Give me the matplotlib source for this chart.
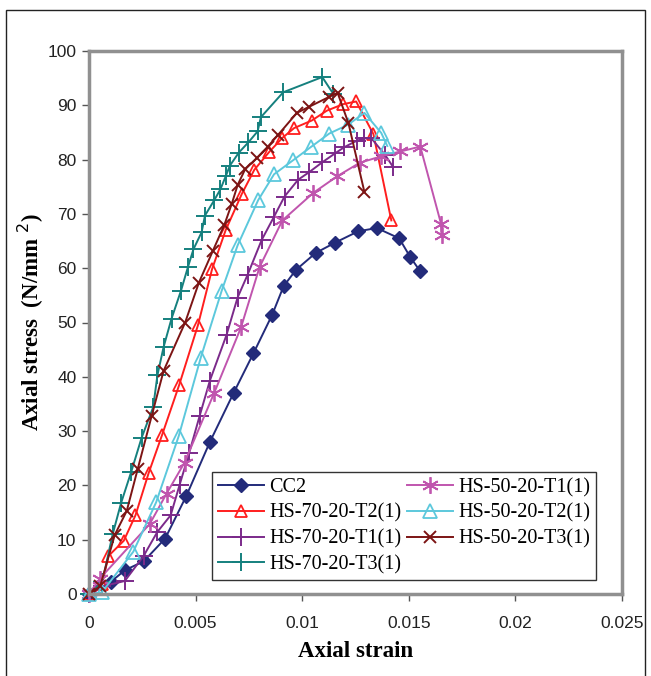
import matplotlib
matplotlib.use("Agg")
from matplotlib import pyplot as plt
from matplotlib.patches import Rectangle

# strain / stress readings (N/mm^2)
cc2_x = [0, 0.00101, 0.00169, 0.00256, 0.00357, 0.00457, 0.00567, 0.00678, 0.00771, 0.00859,
         0.00913, 0.00971, 0.01063, 0.01154, 0.01263, 0.0135, 0.01455, 0.01506, 0.01554]
cc2_y = [0, 2.2, 4.4, 6.0, 10.2, 18.1, 28.0, 37.0, 44.3, 51.4,
         56.7, 59.7, 62.8, 64.7, 66.8, 67.4, 65.5, 62.1, 59.4]

t2_70_x = [0, 0.00062, 0.00091, 0.00163, 0.00218, 0.0028, 0.00342, 0.00423, 0.00511, 0.00577,
           0.00641, 0.00717, 0.00775, 0.00845, 0.00907, 0.00962, 0.01045, 0.01115, 0.01191,
           0.01253, 0.01334, 0.01418]
t2_70_y = [0, 1.8, 7.0, 9.8, 14.5, 22.3, 29.2, 38.5, 49.5, 59.8,
           67.0, 73.7, 78.1, 81.4, 84.0, 85.8, 87.2, 89.0, 90.2,
           90.7, 84.7, 68.8]

t1_70_x = [0, 0.00062, 0.00168, 0.00256, 0.0032, 0.00383, 0.00425, 0.0047, 0.00519, 0.00567,
           0.00645, 0.00697, 0.00744, 0.0081, 0.00868, 0.00917, 0.00981, 0.01033, 0.01094,
           0.01156, 0.01198, 0.01257, 0.01292, 0.01325, 0.0139, 0.01427]
t1_70_y = [0, 1.4, 2.4, 7.0, 11.4, 14.5, 20.1, 26.0, 32.8, 39.3,
           47.7, 54.6, 58.8, 65.2, 69.5, 73.2, 76.3, 77.7, 79.5,
           81.2, 82.3, 83.5, 83.9, 83.9, 80.8, 78.6]

t3_70_x = [0, 0.00062, 0.00111, 0.0015, 0.00198, 0.00247, 0.00301, 0.00321, 0.0035, 0.00387,
           0.00431, 0.00464, 0.0049, 0.00528, 0.00544, 0.00587, 0.00616, 0.00641, 0.00661,
           0.00703, 0.00748, 0.00791, 0.00806, 0.00911, 0.01094, 0.01146]
t3_70_y = [0, 2.2, 11.0, 16.7, 22.5, 28.8, 34.4, 40.3, 45.5, 50.7,
           55.8, 60.2, 63.5, 66.6, 69.7, 72.5, 74.5, 76.9, 78.9,
           81.3, 83.2, 85.2, 87.8, 92.4, 95.2, 92.1]

t1_50_x = [0, 0.0005, 0.00285, 0.00364, 0.00448, 0.00588, 0.00713, 0.008, 0.00907, 0.01053,
           0.01163, 0.01269, 0.0137, 0.01461, 0.01554, 0.01651, 0.01657]
t1_50_y = [0, 2.8, 12.9, 18.5, 24.2, 37.1, 49.1, 60.2, 68.8, 73.9,
           76.9, 79.4, 80.6, 81.5, 82.4, 68.2, 66.2]

t2_50_x = [0, 0.0006, 0.00208, 0.00315, 0.00421, 0.00524, 0.00622, 0.00697, 0.00793, 0.00868,
           0.00958, 0.0104, 0.01127, 0.01214, 0.01292, 0.01371, 0.01399]
t2_50_y = [0, 0.3, 7.8, 16.9, 29.1, 43.5, 55.8, 64.2, 72.5, 77.3,
           79.9, 82.3, 84.8, 86.4, 88.6, 84.9, 82.5]

t3_50_x = [0, 0.00052, 0.00121, 0.00177, 0.00229, 0.00294, 0.0035, 0.00451, 0.00515, 0.00581,
           0.00635, 0.0067, 0.00697, 0.00732, 0.00787, 0.00839, 0.00888, 0.00975, 0.01031,
           0.01124, 0.01166, 0.01217, 0.01292]
t3_50_y = [0, 1.4, 10.9, 15.3, 23.1, 32.8, 41.1, 50.0, 57.3, 63.2,
           68.0, 71.9, 75.3, 78.2, 80.3, 82.4, 84.6, 88.6, 89.7,
           91.5, 92.3, 86.7, 74.0]

labels = ["CC2", "HS-70-20-T2(1)", "HS-70-20-T1(1)", "HS-70-20-T3(1)",
          "HS-50-20-T1(1)", "HS-50-20-T2(1)", "HS-50-20-T3(1)"]
xs = [cc2_x, t2_70_x, t1_70_x, t3_70_x, t1_50_x, t2_50_x, t3_50_x]
ys = [cc2_y, t2_70_y, t1_70_y, t3_70_y, t1_50_y, t2_50_y, t3_50_y]
x_ticks = [0, 0.005, 0.01, 0.015, 0.02, 0.025]
x_ticklabels = ["0", "0.005", "0.01", "0.015", "0.02", "0.025"]
y_ticks = [0, 10, 20, 30, 40, 50, 60, 70, 80, 90, 100]

colors = ['#232B7A', '#FF1E1E', '#7B2A8A', '#15807E', '#C055AE', '#5CC8DC', '#7C1414']
styles = [
    dict(marker='D', ms=7, mfc=colors[0], mec=colors[0]),
    dict(marker='^', ms=9, mfc='none', mec=colors[1], mew=1.3),
    dict(marker='+', ms=13, mec=colors[2], mew=1.4),
    dict(marker='+', ms=13, mec=colors[3], mew=1.4),
    dict(marker=(6, 2, 0), ms=12, mec=colors[4], mew=1.3),
    dict(marker='^', ms=10, mfc='none', mec=colors[5], mew=1.3),
    dict(marker='x', ms=9, mec=colors[6], mew=1.4),
]

fig = plt.figure(figsize=(6.51, 6.76), dpi=100)
ax = fig.add_axes([89 / 651, 1 - 594 / 676, 533 / 651, 543 / 676])

for x, y, lab, c, st in zip(xs, ys, labels, colors, styles):
    ax.plot(x, y, color=c, lw=1.4, label=lab, clip_on=False, **st)

ax.set_xlim(0, 0.025)
ax.set_ylim(0, 100)
ax.set_xticks(x_ticks)
ax.set_xticklabels(x_ticklabels)
ax.set_yticks(y_ticks)
ax.tick_params(direction='out', length=5, width=1, color='#555555', labelsize=12.5,
               labelcolor='#222222')
ax.tick_params(axis='x', pad=11)
ax.tick_params(axis='y', pad=4)
for lab in ax.get_xticklabels() + ax.get_yticklabels():
    lab.set_family('Liberation Sans')
for s in ax.spines.values():
    s.set_color('#909090')
    s.set_linewidth(2.5)

ax.set_xlabel("Axial strain", family='Liberation Serif', fontweight='bold', fontsize=16.5,
              labelpad=7)
ax.set_ylabel(r"Axial stress  (N/mm $^{2}$)", family='Liberation Serif', fontweight='bold',
              fontsize=16.5, labelpad=1)

leg = ax.legend(loc='lower left', bbox_to_anchor=(0.231, 0.026, 0.72, 0.206), mode='expand',
                ncol=2, prop={'family': 'Liberation Serif', 'size': 14.5}, fancybox=False,
                frameon=True, edgecolor='black', handlelength=2.3, handletextpad=0.25,
                columnspacing=0.5, borderpad=0.28, labelspacing=0.32, borderaxespad=0)
leg.get_frame().set_linewidth(1.0)

fig.patches.append(Rectangle((6 / 651, -0.05), 639 / 651, 1.05 - 10 / 676,
                             transform=fig.transFigure, fill=False, edgecolor='#222222', lw=1.0))

fig.savefig("out.png", dpi=100, facecolor='white')
